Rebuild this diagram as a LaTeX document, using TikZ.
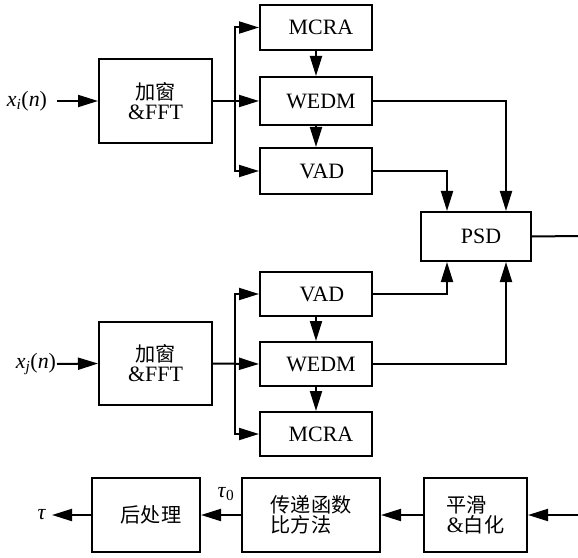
\documentclass[tikz,border=0pt]{standalone}
\usepackage{fontspec}
\setmainfont{Liberation Serif}
\newfontfamily\cjk[Scale=0.92]{Noto Sans CJK SC}
\usetikzlibrary{arrows.meta,calc}
\begin{document}
\begin{tikzpicture}[x=1bp,y=-1bp,
  box/.style={draw,line width=2bp,inner sep=0pt,font=\fontsize{22}{20}\selectfont,align=center},
  conn/.style={line width=2bp},
  arr/.style={conn,-{Triangle[length=20bp,width=12bp]}},
  lbl/.style={inner sep=0pt,font=\fontsize{22}{20}\selectfont}]
\useasboundingbox (0,0) rectangle (578,558);
% upper chain
\node[box,minimum width=113bp,minimum height=84bp] (fft1) at (155.5,101) {{\cjk 加窗}\\\&FFT};
\node[box,minimum width=112bp,minimum height=45bp] (mcra1) at (316,27.5) {\hspace*{10pt}MCRA};
\node[box,minimum width=112bp,minimum height=48bp] (wedm1) at (316,101) {\hspace*{10pt}WEDM};
\node[box,minimum width=112bp,minimum height=46bp] (vad1) at (316,171) {\hspace*{12pt}VAD};
\node[box,minimum width=110bp,minimum height=49bp] (psd) at (476,236.5) {\hspace*{10pt}PSD};
% lower chain
\node[box,minimum width=113bp,minimum height=83bp] (fft2) at (155.5,363.5) {{\cjk 加窗}\\\&FFT};
\node[box,minimum width=112bp,minimum height=44bp] (vad2) at (316,294) {\hspace*{12pt}VAD};
\node[box,minimum width=112bp,minimum height=44bp] (wedm2) at (316,364) {\hspace*{10pt}WEDM};
\node[box,minimum width=112bp,minimum height=44bp] (mcra2) at (316,434) {\hspace*{10pt}MCRA};
% bottom row
\node[box,minimum width=108bp,minimum height=74bp] (post) at (146,515) {\hspace*{10pt}{\cjk 后处理}};
\node[box,minimum width=138bp,minimum height=74bp,align=left] (tf) at (311,515) {{\cjk 传递函数}\\{\cjk 比方法}};
\node[box,minimum width=103bp,minimum height=74bp,align=left] (sm) at (475.5,515) {{\cjk 平滑}\\\&{\cjk 白化}};
% labels
\node[lbl] (xi) at (27,101) {\textit{x}\textsubscript{\textit{i}}(\textit{n})};
\node[lbl] (xj) at (36,364) {\textit{x}\textsubscript{\textit{j}}(\textit{n})};
\node[lbl] (tau) at (42,515) {\textit{τ}};
\node[lbl] (tau0) at (226,494) {\textit{τ}\textsubscript{0}};
% coordinates
\coordinate (in1) at (57,101);
\coordinate (in2) at (57,364);
\coordinate (b1) at (235,101);
\coordinate (b2) at (235,364);
\coordinate (out1) at (578,236);
\coordinate (in3) at (578,515);
\coordinate (tauend) at (52,515);
% connectors upper
\draw[arr] (in1) -- (fft1.west);
\draw[arr] (fft1.east) -- (wedm1.west);
\draw[arr] (b1) |- (mcra1.west);
\draw[arr] (b1) |- (vad1.west);
\draw[arr] (mcra1.south) -- (wedm1.north);
\draw[arr] (wedm1.south) -- (vad1.north);
\draw[arr] (wedm1.east) -| ([xshift=30bp]psd.north);
\draw[arr] (vad1.east) -| ([xshift=-29bp]psd.north);
\draw[conn] (psd.east) -- (out1);
% connectors lower
\draw[arr] (in2) -- (fft2.west);
\draw[arr] (fft2.east) -- (wedm2.west);
\draw[arr] (b2) |- (vad2.west);
\draw[arr] (b2) |- (mcra2.west);
\draw[arr] (vad2.south) -- (wedm2.north);
\draw[arr] (wedm2.south) -- (mcra2.north);
\draw[arr] (vad2.east) -| ([xshift=-29bp]psd.south);
\draw[arr] (wedm2.east) -| ([xshift=30bp]psd.south);
% bottom row
\draw[arr] (in3) -- (sm.east);
\draw[arr] (sm.west) -- (tf.east);
\draw[arr] (tf.west) -- (post.east);
\draw[arr] (post.west) -- (tauend);
\end{tikzpicture}
\end{document}
